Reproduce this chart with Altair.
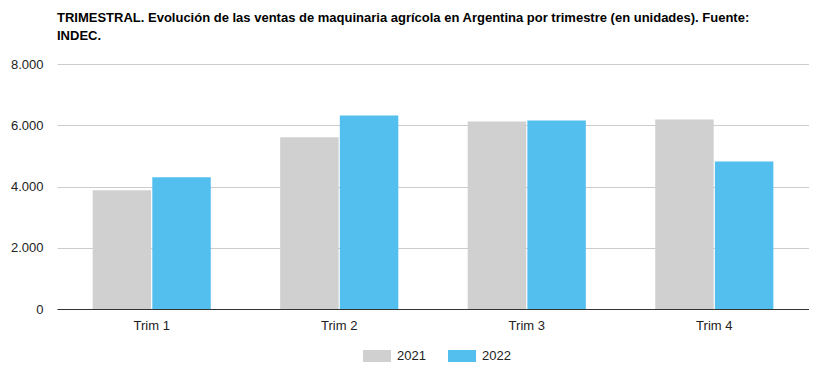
import altair as alt
import pandas as pd

quarters = ["Trim 1", "Trim 2", "Trim 3", "Trim 4"]
ventas_2021 = [3880, 5605, 6125, 6190]
ventas_2022 = [4300, 6320, 6155, 4820]
years = ["2021", "2022"]
colors = ["#d0d0d0", "#53bfef"]

rows = []
for q, a, b in zip(quarters, ventas_2021, ventas_2022):
    rows.append({"trim": q, "year": "2021", "value": a})
    rows.append({"trim": q, "year": "2022", "value": b})
df = pd.DataFrame(rows)

title_lines = [
    "TRIMESTRAL. Evolución de las ventas de maquinaria agrícola en Argentina por trimestre (en unidades). Fuente:",
    "INDEC.",
]

chart = alt.Chart(df).mark_bar().encode(
    x=alt.X("trim:N", sort=quarters, title=None,
            scale=alt.Scale(paddingInner=0.37, paddingOuter=0.19),
            axis=alt.Axis(labelAngle=0, ticks=False, domain=True, domainColor="#333",
                          domainWidth=1, labelFontSize=13, labelColor="#222",
                          labelFont="Liberation Sans", labelPadding=10, grid=False)),
    xOffset=alt.XOffset("year:N", sort=years, scale=alt.Scale(paddingInner=0.02)),
    y=alt.Y("value:Q", title=None,
            scale=alt.Scale(domain=[0, 8000]),
            axis=alt.Axis(values=[0, 2000, 4000, 6000, 8000], domain=False, ticks=False,
                          labelExpr="replace(format(datum.value, ','), ',', '.')",
                          labelFontSize=13, labelColor="#222", labelFont="Liberation Sans",
                          labelPadding=14, gridColor="#cccccc")),
    color=alt.Color("year:N", sort=years,
                    scale=alt.Scale(domain=years, range=colors),
                    legend=alt.Legend(title=None, orient="none", direction="horizontal",
                                      legendX=306, legendY=278,
                                      symbolType="M-1,-0.43H1V0.43H-1Z", symbolSize=784,
                                      symbolStrokeWidth=0, labelFontSize=13,
                                      labelFont="Liberation Sans", labelColor="#222",
                                      labelOffset=6, columnPadding=22)),
).properties(
    width=752,
    height=245,
    title=alt.TitleParams(text=title_lines, anchor="start", frame="group",
                          font="Liberation Sans", fontSize=13, fontWeight="bold",
                          color="#000", lineHeight=18, offset=15),
    autosize=alt.AutoSizeParams(type="none"),
    padding={"left": 49, "top": 56, "right": 0, "bottom": 54},
).configure_view(stroke=None)

chart.save("out.html", embed_options={"renderer": "svg", "actions": False})
